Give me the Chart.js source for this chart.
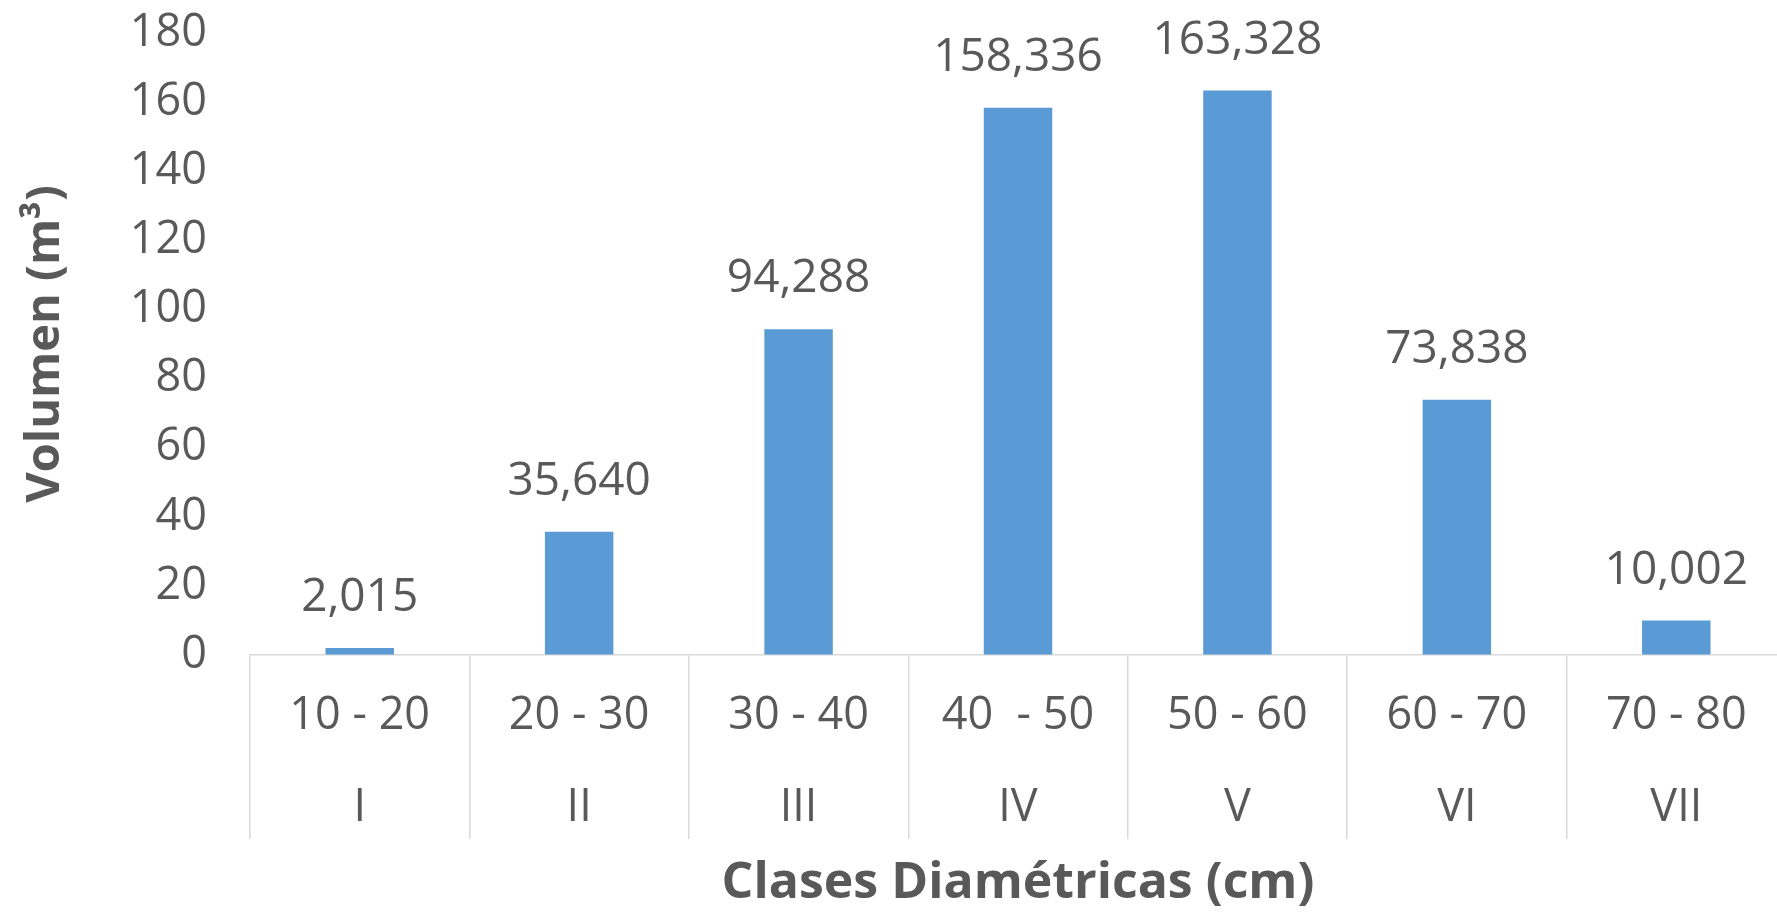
<!DOCTYPE html>
<html>
<head>
<meta charset="utf-8">
<script src="https://cdn.jsdelivr.net/npm/chart.js@4.4.1/dist/chart.umd.min.js"></script>
<style>
  html, body { margin: 0; padding: 0; background: #ffffff; overflow: hidden; }
  #wrap { width: 1786px; height: 916px; }
</style>
</head>
<body>
<div id="wrap"><canvas id="c" width="1786" height="916"></canvas></div>
<script>
// ---- data ----
const classRanges = ["10 - 20", "20 - 30", "30 - 40", "40  - 50", "50 - 60", "60 - 70", "70 - 80"];
const classNumerals = ["I", "II", "III", "IV", "V", "VI", "VII"];
const volumes = [2.015, 35.640, 94.288, 158.336, 163.328, 73.838, 10.002];
const yTicks = [0, 20, 40, 60, 80, 100, 120, 140, 160, 180];
const xTitle = "Clases Diamétricas (cm)";
const yTitle = "Volumen (m³)";

const TEXT = "#595959";
const LINE = "#D9D9D9";
const BAR = "#5B9BD5";
const FONT = "'Open Sans', 'Liberation Sans', sans-serif";

const labels = classRanges.map((r, i) => [r, classNumerals[i]]);

const valueLabels = {
  id: "valueLabels",
  afterDatasetsDraw(chart) {
    const ctx = chart.ctx;
    const meta = chart.getDatasetMeta(0);
    ctx.save();
    ctx.font = "46px " + FONT;
    ctx.fillStyle = TEXT;
    ctx.textAlign = "center";
    ctx.textBaseline = "middle";
    meta.data.forEach((bar, i) => {
      const txt = volumes[i].toFixed(3).replace(".", ",");
      ctx.fillText(txt, bar.x, bar.y - 50);
    });
    ctx.restore();
  }
};

new Chart(document.getElementById("c"), {
  type: "bar",
  data: {
    labels: labels,
    datasets: [{
      data: volumes,
      backgroundColor: BAR,
      borderWidth: 0,
      categoryPercentage: 1.0,
      barPercentage: 0.312
    }]
  },
  options: {
    responsive: false,
    animation: false,
    devicePixelRatio: 1,
    layout: { padding: { top: 33, left: 0, right: 0, bottom: 0 } },
    plugins: {
      legend: { display: false },
      tooltip: { enabled: false }
    },
    scales: {
      x: {
        offset: true,
        grid: {
          display: true,
          offset: true,
          drawOnChartArea: false,
          drawTicks: true,
          tickLength: 184,
          color: LINE,
          lineWidth: 1.5
        },
        border: { display: true, color: LINE, width: 1.5 },
        ticks: {
          color: TEXT,
          font: { family: FONT, size: 45, lineHeight: 2.044 },
          padding: -169,
          maxRotation: 0,
          autoSkip: false
        },
        title: {
          display: true,
          text: xTitle,
          color: TEXT,
          font: { family: FONT, size: 50, weight: "bold", lineHeight: 1.2 },
          padding: { top: 0, bottom: 2 }
        },
        afterFit(scale) { scale.height = 261; }
      },
      y: {
        min: 0,
        max: 180,
        grid: {
          display: true,
          drawOnChartArea: false,
          drawTicks: true,
          tickLength: 43,
          color: "rgba(0,0,0,0)"
        },
        border: { display: false },
        afterBuildTicks(scale) { scale.ticks = yTicks.map(v => ({ value: v })); },
        ticks: {
          color: TEXT,
          font: { family: FONT, size: 45 },
          padding: 0
        },
        title: {
          display: true,
          text: yTitle,
          color: TEXT,
          font: { family: FONT, size: 47, weight: "bold", lineHeight: 1.2 },
          padding: { top: 17, bottom: 0 }
        },
        afterFit(scale) { scale.width = 250; }
      }
    }
  },
  plugins: [valueLabels]
});
</script>
</body>
</html>
